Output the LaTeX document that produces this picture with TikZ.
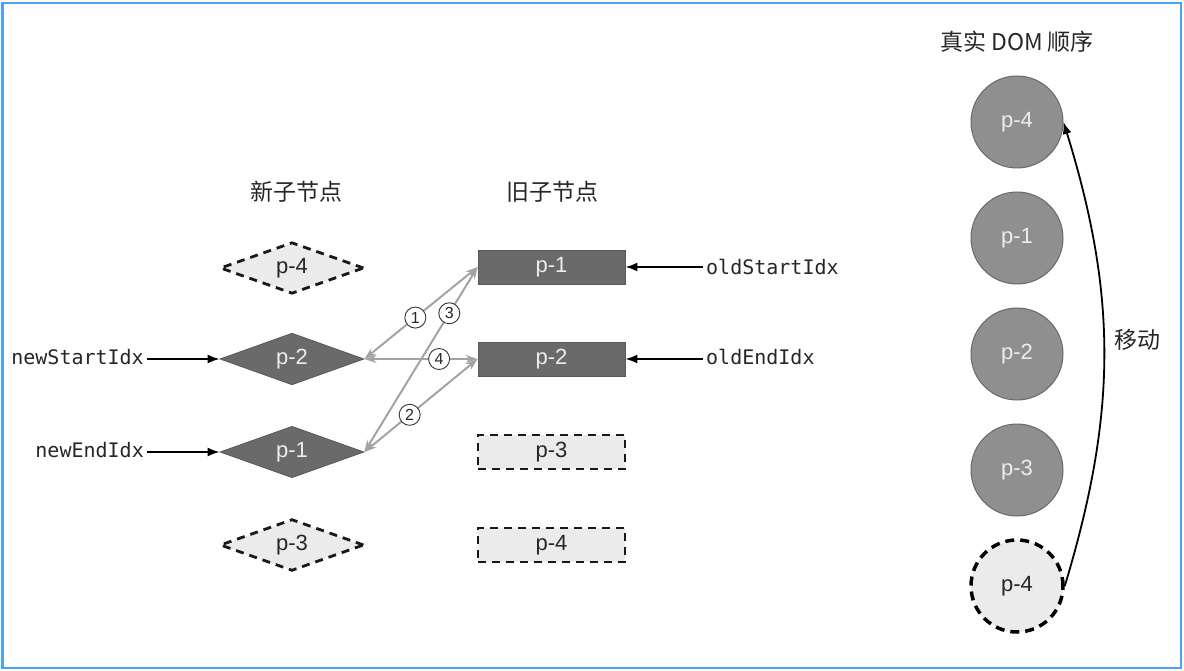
\documentclass[tikz,border=0pt]{standalone}
\usepackage{fontspec}
\setmainfont{Liberation Sans}
\setmonofont{DejaVu Sans Mono}
\newfontfamily\cjkfont{Noto Sans CJK SC}
\usetikzlibrary{arrows.meta,shapes.geometric}
\definecolor{frame}{HTML}{4DA3EE}
\definecolor{vnode}{HTML}{6A6A6A}
\definecolor{vtext}{HTML}{EDEDED}
\definecolor{ghost}{HTML}{EBEBEB}
\definecolor{domnode}{HTML}{8F8F8F}
\definecolor{cmp}{HTML}{A3A3A3}

\begin{document}
\begin{tikzpicture}[x=1pt,y=-1pt,
  plabel/.style={font=\fontsize{22}{22}\selectfont},
  newnode/.style={diamond,plabel,inner sep=0pt,minimum width=144,minimum height=42,line width=0.8pt},
  oldnode/.style={rectangle,plabel,inner sep=0pt,minimum width=147,minimum height=34,line width=0.8pt},
  live/.style={fill=vnode,draw=vnode!85!black,text=vtext},
  ghostline/.style={fill=ghost,draw=black!90,text=black!85,line width=2.8pt,dash pattern=on 8pt off 6pt},
  domcirc/.style={circle,plabel,minimum size=92,inner sep=0pt,fill=domnode,draw=vnode,line width=1pt,text=vtext},
  idxlabel/.style={font=\ttfamily\fontsize{20}{20}\selectfont,inner sep=3pt,text=black!85},
  ptr/.style={-{Latex[length=12pt,width=9pt]},line width=1.8pt,black},
  cmparrow/.style={{Stealth[length=12pt,width=8pt]}-{Stealth[length=12pt,width=8pt]},cmp,line width=2pt},
  numlabel/.style={circle,draw=black!80,fill=white,text=black!85,line width=0.9pt,inner sep=0pt,minimum size=21,font=\fontsize{16}{16}\selectfont},
  title/.style={font=\cjkfont\fontsize{23}{23}\selectfont,text=black!85}]
  \useasboundingbox (0,0) rectangle (1184,671);
  \draw[frame,line width=2.5pt] (2.5,3) rectangle (1181,668);

  % titles
  \node[title] (tnew) at (296,192) {新子节点};
  \node[title] (told) at (552,192) {旧子节点};
  \node[title] (tdom) at (1017,42) {真实 DOM 顺序};

  % new children
  \node[newnode,ghostline] (n4) at (292,268) {p-4};
  \node[newnode,live] (n2) at (292,359) {p-2};
  \node[newnode,live] (n1) at (292,452) {p-1};
  \node[newnode,ghostline] (n3) at (292,545) {p-3};

  % old children
  \node[oldnode,live] (o1) at (551.5,267) {p-1};
  \node[oldnode,live] (o2) at (551.5,359) {p-2};
  \node[oldnode,ghostline] (o3) at (551.5,452) {p-3};
  \node[oldnode,ghostline] (o4) at (551.5,545) {p-4};

  % index pointers
  \node[idxlabel,anchor=east] (ns) at (147,357) {newStartIdx};
  \node[idxlabel,anchor=east] (ne) at (147,450) {newEndIdx};
  \node[idxlabel,anchor=west] (os) at (703,267) {oldStartIdx};
  \node[idxlabel,anchor=west] (oe) at (703,357) {oldEndIdx};
  \draw[ptr] (ns.east |- n2) -- (n2.west);
  \draw[ptr] (ne.east |- n1) -- (n1.west);
  \draw[ptr] (os.west |- o1) -- (o1.east);
  \draw[ptr] (oe.west |- o2) -- (o2.east);

  % comparisons
  \draw[cmparrow] (n2.east) -- node[numlabel,pos=0.45] (s1) {1} (o1.west);
  \draw[cmparrow] (n1.east) -- node[numlabel,pos=0.4] (s2) {2} (o2.west);
  \draw[cmparrow] (n1.east) -- node[numlabel,pos=0.75] (s3) {3} (o1.west);
  \draw[cmparrow] (n2.east) -- node[numlabel,pos=0.66] (s4) {4} (o2.west);

  % real DOM
  \foreach \n/\y/\t in {c1/122/p-4, c2/238/p-1, c3/354/p-2, c4/470/p-3}
    \node[domcirc] (\n) at (1017,\y) {\t};
  \node[domcirc,fill=ghost,text=black!85,draw=black,line width=3.5pt,dash pattern=on 9pt off 6pt] (c5) at (1017,586) {p-4};
  \draw[ptr] (c5.east) to[bend right=17] (c1.east);
  \node[title] (mv) at (1137,340) {移动};
\end{tikzpicture}
\end{document}
